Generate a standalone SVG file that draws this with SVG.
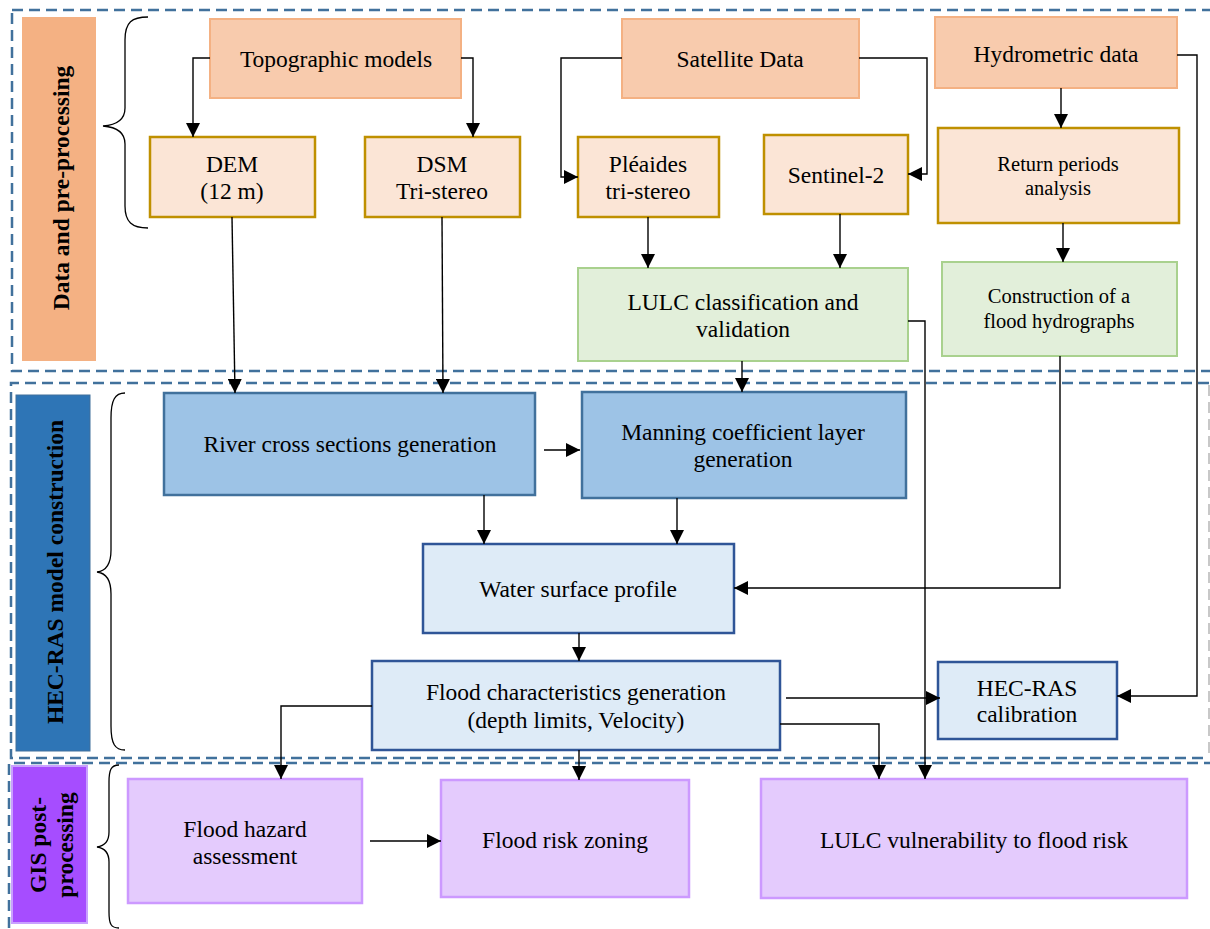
<svg xmlns="http://www.w3.org/2000/svg" width="1210" height="929" viewBox="0 0 1210 929">
<style>
text{font-family:"Liberation Serif","Times New Roman",serif;fill:#000;text-anchor:middle}
.t{font-size:23.5px}
.s{font-size:20.5px}
.b{font-size:23.5px;font-weight:bold}
.sec{fill:none;stroke:#41719C;stroke-width:2.5;stroke-dasharray:11 6}
.org{fill:#F8CBAD;stroke:#F4B183;stroke-width:2}
.lor{fill:#FBE5D6;stroke:#BF9000;stroke-width:2.5}
.grn{fill:#E2EFDA;stroke:#A9D18E;stroke-width:2}
.dbl{fill:#9DC3E6;stroke:#41719C;stroke-width:2.5}
.lbl{fill:#DEEBF7;stroke:#2F5597;stroke-width:2.5}
.pur{fill:#E4CBFD;stroke:#CC99FF;stroke-width:2.5}
.br{fill:none;stroke:#000;stroke-width:1.3}
.c{fill:none;stroke:#000;stroke-width:1.4;marker-end:url(#ah)}
</style>
<defs>
<marker id="ah" viewBox="0 0 14 14" refX="14" refY="7" markerWidth="14" markerHeight="14" markerUnits="userSpaceOnUse" orient="auto">
<path d="M0,0 L14,7 L0,14 z" fill="#000"/>
</marker>
</defs>
<rect width="1210" height="929" fill="#fff"/>

<g id="sections">
<rect class="sec" x="12" y="10" width="1210" height="361"/>
<path class="sec" d="M1209,383 H11 V758 H1209"/>
<path d="M1209,385 V756" fill="none" stroke="#C8C8C8" stroke-width="2" stroke-dasharray="11 6"/>
<path class="sec" d="M1215,763 H9 V935"/>
</g>

<g id="label-data">
<rect x="22" y="17" width="74" height="344" fill="#F4B183"/>
<text class="b" transform="translate(69,188) rotate(-90)">Data and pre-processing</text>
</g>
<g id="label-hecras">
<rect x="16" y="395" width="74" height="356" fill="#2E75B6" stroke="#41719C" stroke-width="1"/>
<text class="b" transform="translate(63,572) rotate(-90)">HEC-RAS model construction</text>
</g>
<g id="label-gis">
<rect x="12" y="766" width="75" height="157" fill="#A64DFF" stroke="#C9A0FF" stroke-width="2"/>
<text class="b" transform="translate(46,845) rotate(-90)">GIS post-</text>
<text class="b" transform="translate(73,845) rotate(-90)">processing</text>
</g>

<g id="braces">
<path class="br" d="M148,17 C132,17 125,22 125,40 V108 C125,120 116,125 103,126 C116,127 125,132 125,144 V206 C125,222 132,228 148,228"/>
<path class="br" d="M125,393 C115,393 111,400 111,418 V550 C111,565 106,571 97,572 C106,573 111,580 111,594 V726 C111,744 115,750 125,750"/>
<path class="br" d="M119,765 C111,765 109,770 109,782 V832 C109,842 104,846 97,847 C104,848 109,852 109,862 V912 C109,924 111,928 119,928"/>
</g>

<g id="topographic"><rect class="org" x="210" y="19" width="251" height="79"/><text class="t" x="336" y="67">Topographic models</text></g>
<g id="satellite"><rect class="org" x="622" y="19" width="237" height="79"/><text class="t" x="740" y="67">Satellite Data</text></g>
<g id="hydrometric"><rect class="org" x="935" y="17" width="242" height="71"/><text class="t" x="1056" y="62">Hydrometric data</text></g>

<g id="dem"><rect class="lor" x="150" y="137" width="165" height="80"/><text class="t" x="232" y="172">DEM</text><text class="t" x="232" y="199">(12 m)</text></g>
<g id="dsm"><rect class="lor" x="365" y="137" width="155" height="80"/><text class="t" x="442" y="172">DSM</text><text class="t" x="442" y="199">Tri-stereo</text></g>
<g id="pleiades"><rect class="lor" x="578" y="137" width="141" height="80"/><text class="t" x="648" y="172">Pléaides</text><text class="t" x="648" y="199">tri-stereo</text></g>
<g id="sentinel"><rect class="lor" x="764" y="135" width="144" height="79"/><text class="t" x="836" y="183">Sentinel-2</text></g>
<g id="return"><rect class="lor" x="938" y="128" width="241" height="95"/><text class="s" x="1058" y="171">Return periods</text><text class="s" x="1058" y="195">analysis</text></g>

<g id="lulc"><rect class="grn" x="578" y="268" width="330" height="93"/><text class="t" x="743" y="310">LULC classification and</text><text class="t" x="743" y="337">validation</text></g>
<g id="hydrograph"><rect class="grn" x="942" y="262" width="235" height="94"/><text class="s" x="1059" y="303">Construction of a</text><text class="s" x="1059" y="328">flood hydrographs</text></g>

<g id="river"><rect class="dbl" x="164" y="393" width="371" height="102"/><text class="t" x="350" y="452">River cross sections generation</text></g>
<g id="manning"><rect class="dbl" x="582" y="392" width="324" height="106"/><text class="t" x="743" y="440">Manning coefficient layer</text><text class="t" x="743" y="467">generation</text></g>
<g id="water"><rect class="lbl" x="423" y="544" width="311" height="89"/><text class="t" x="578" y="597">Water surface profile</text></g>
<g id="floodchar"><rect class="lbl" x="372" y="661" width="408" height="89"/><text class="t" x="576" y="700">Flood characteristics generation</text><text class="t" x="576" y="728">(depth limits, Velocity)</text></g>
<g id="calibration"><rect class="lbl" x="938" y="662" width="179" height="77"/><text class="t" x="1027" y="696">HEC-RAS</text><text class="t" x="1027" y="722">calibration</text></g>

<g id="hazard"><rect class="pur" x="128" y="779" width="234" height="124"/><text class="t" x="245" y="837">Flood hazard</text><text class="t" x="245" y="864">assessment</text></g>
<g id="risk"><rect class="pur" x="441" y="780" width="248" height="117"/><text class="t" x="565" y="848">Flood risk zoning</text></g>
<g id="vulnerability"><rect class="pur" x="761" y="779" width="426" height="119"/><text class="t" x="974" y="848">LULC vulnerability to flood risk</text></g>

<g id="connectors">
<path class="c" d="M210,58 H193 V137"/>
<path class="c" d="M461,58 H473 V137"/>
<path class="c" d="M622,58 H561 V177 H578"/>
<path class="c" d="M859,58 H927 V174 H908"/>
<path class="c" d="M1061,88 V128"/>
<path class="c" d="M1063,223 V262"/>
<path class="c" d="M648,217 V268"/>
<path class="c" d="M840,214 V268"/>
<path class="c" d="M232,217 L235,393"/>
<path class="c" d="M442,217 L443,393"/>
<path class="c" d="M742,361 V392"/>
<path class="c" d="M544,450 H580"/>
<path class="c" d="M484,495 V544"/>
<path class="c" d="M677,498 V544"/>
<path class="c" d="M1060,356 V588 H734"/>
<path class="c" d="M579,633 V661"/>
<path class="c" d="M786,698 H940"/>
<path class="c" d="M1177,55 H1197 V696 H1117"/>
<path class="c" d="M908,321 H925 V779"/>
<path class="c" d="M780,724 H879 V779"/>
<path class="c" d="M372,706 H281 V779"/>
<path class="c" d="M579,750 V780"/>
<path class="c" d="M370,841 H441"/>
</g>
</svg>
